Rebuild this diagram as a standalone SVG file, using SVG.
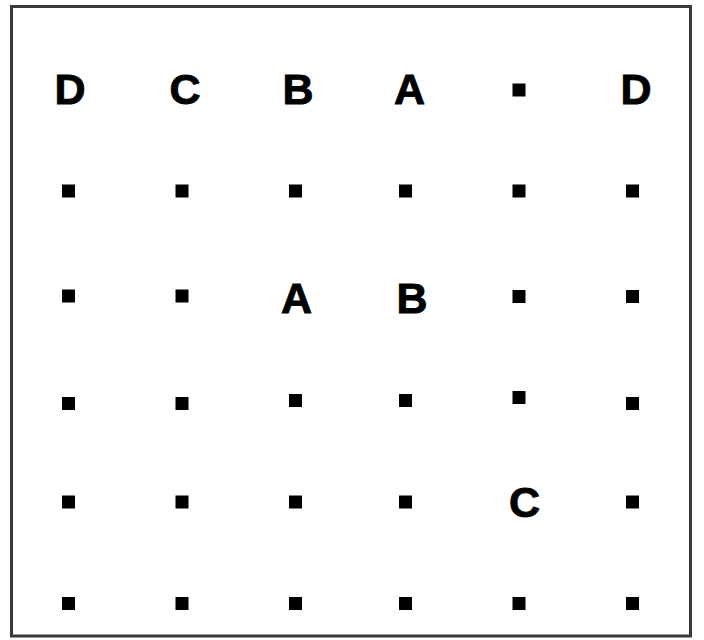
<svg xmlns="http://www.w3.org/2000/svg" width="704" height="640" viewBox="0 0 704 640">
<style>
.l{font-family:"Liberation Sans",Arial,sans-serif;font-weight:bold;font-size:43px;fill:#000;stroke:#000;stroke-width:0.9;text-anchor:middle}
.d{fill:#000}
</style>
<defs><rect id="dot" x="-6.5" y="-6.5" width="13" height="13"/></defs>
<rect x="11.5" y="6.5" width="679" height="629.5" fill="#fff" stroke="#3a3a3a" stroke-width="3"/>
<g id="row1">
<text class="l" x="70" y="103.5">D</text>
<text class="l" x="185" y="103.5">C</text>
<text class="l" x="298" y="103.5">B</text>
<text class="l" x="409.5" y="103.5">A</text>
<use href="#dot" x="519" y="90"/>
<text class="l" x="636" y="103.5">D</text>
</g>
<g id="row2">
<use href="#dot" x="68.5" y="191"/>
<use href="#dot" x="182" y="191"/>
<use href="#dot" x="295.5" y="191"/>
<use href="#dot" x="405.5" y="191"/>
<use href="#dot" x="519" y="191"/>
<use href="#dot" x="632.5" y="191"/>
</g>
<g id="row3">
<use href="#dot" x="68.5" y="296"/>
<use href="#dot" x="182" y="296"/>
<text class="l" x="296.5" y="312.5">A</text>
<text class="l" x="412" y="312.5">B</text>
<use href="#dot" x="519" y="296.5"/>
<use href="#dot" x="632.5" y="296.5"/>
</g>
<g id="row4">
<use href="#dot" x="68.5" y="403.5"/>
<use href="#dot" x="182" y="403.5"/>
<use href="#dot" x="295.5" y="400.5"/>
<use href="#dot" x="405.5" y="400.5"/>
<use href="#dot" x="519" y="397.5"/>
<use href="#dot" x="632.5" y="403.5"/>
</g>
<g id="row5">
<use href="#dot" x="68.5" y="502"/>
<use href="#dot" x="182" y="502"/>
<use href="#dot" x="295.5" y="502"/>
<use href="#dot" x="405.5" y="502"/>
<text class="l" x="524.5" y="516.5">C</text>
<use href="#dot" x="632.5" y="502"/>
</g>
<g id="row6">
<use href="#dot" x="68.5" y="603.5"/>
<use href="#dot" x="182" y="603.5"/>
<use href="#dot" x="295.5" y="603.5"/>
<use href="#dot" x="405.5" y="603.5"/>
<use href="#dot" x="519" y="603.5"/>
<use href="#dot" x="632.5" y="603.5"/>
</g>
<g id="connectors"/>
</svg>
